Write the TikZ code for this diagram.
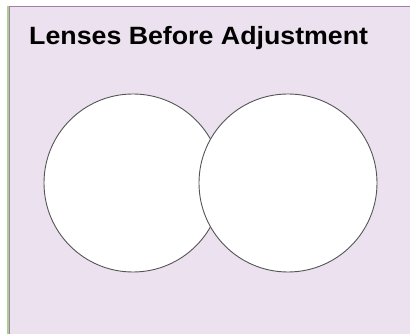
\documentclass[tikz,border=0pt]{standalone}
\usepackage{fontspec}
\setmainfont{Liberation Sans}
\usepackage{tikz}
\usetikzlibrary{positioning}

\definecolor{panelfill}{HTML}{EBE1EF}
\definecolor{panelborder}{HTML}{A67BAE}
\definecolor{panelgreen}{HTML}{A9D18E}
\definecolor{lensline}{HTML}{555555}

\begin{document}
\begin{tikzpicture}[x=1pt, y=-1pt,
                panel/.style={fill=panelfill, draw=panelborder, line width=1.5pt},
                lens/.style={draw=lensline, fill=white, circle, line width=0.9pt, minimum size=178pt, inner sep=0pt},
                title/.style={font=\bfseries\fontsize{25}{30}\selectfont, anchor=base west, inner sep=0pt}
            ]
            \useasboundingbox (0,0) rectangle (410,334);

            % Rahmen
            \draw[panelgreen, line width=1.2pt] (8,6) -- (8,340);
            \draw[panel] (9.5,6.5) rectangle (420,345);

            % Titel
            \node[title] (T) at (29,45) {\scalebox{1.07}[1]{Lenses Before Adjustment}};

            % Linsen
            \node[lens] (L1) at (133,183) {};
            \node[lens] (L2) at (288,183) {};

        \end{tikzpicture}
\end{document}
